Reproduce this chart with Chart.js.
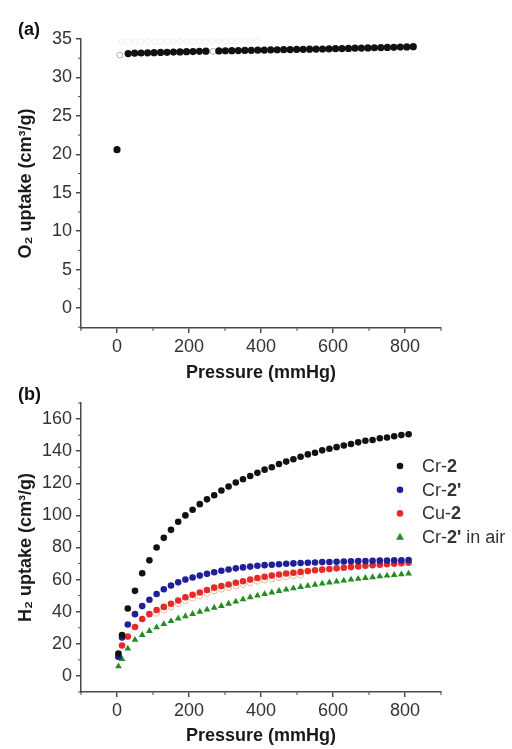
<!DOCTYPE html>
<html>
<head>
<meta charset="utf-8">
<title>O2 and H2 uptake</title>
<script src="https://cdn.jsdelivr.net/npm/chart.js@4.4.1/dist/chart.umd.min.js"></script>
<style>
  body { margin: 0; background: #fff; width: 512px; height: 749px; position: relative; overflow: hidden; font-family: "Liberation Sans", Arial, sans-serif; }
  canvas { position: absolute; left: 0; }
  #chartA { top: 0; }
  #chartB { top: 386px; }
  .panel { position: absolute; left: 18px; font-weight: bold; font-size: 18px; color: #111; line-height: 20px; }
</style>
</head>
<body>
<canvas id="chartA" width="512" height="386"></canvas>
<canvas id="chartB" width="512" height="363"></canvas>
<div class="panel" style="top:19px">(a)</div>
<div class="panel" style="top:384px">(b)</div>
<script>
// ---- data ----
const xTicks = [0, 200, 400, 600, 800];
const o2Ticks = [0, 5, 10, 15, 20, 25, 30, 35];
const h2Ticks = [0, 20, 40, 60, 80, 100, 120, 140, 160];

// (a) O2 isotherm
const o2Pressure = [0, 31, 49, 67, 85, 103, 121, 139, 157, 175, 193, 211, 229, 247,
  283, 301, 319, 337, 355, 373, 391, 409, 427, 445, 463, 481, 499, 517, 535, 553,
  571, 589, 607, 625, 643, 661, 679, 697, 715, 733, 751, 769, 787, 805, 823];
const o2Uptake = [20.6, 33.1, 33.15, 33.18, 33.2, 33.22, 33.25, 33.27, 33.3, 33.32, 33.35, 33.37, 33.4, 33.42,
  33.45, 33.47, 33.48, 33.5, 33.52, 33.53, 33.55, 33.56, 33.58, 33.6, 33.61, 33.63, 33.64, 33.66, 33.67, 33.69,
  33.7, 33.72, 33.74, 33.76, 33.78, 33.8, 33.82, 33.84, 33.86, 33.88, 33.9, 33.92, 33.95, 33.97, 34.0];
const o2OpenPressure = [8, 267];
const o2OpenUptake = [32.9, 33.4];
const o2FaintPressure = [13, 31, 49, 67, 85, 103, 121, 139, 157, 175, 193, 211, 229, 247, 265, 283, 301, 319, 337, 355, 373, 391];
const o2FaintUptake = [34.6, 34.6, 34.62, 34.62, 34.63, 34.63, 34.64, 34.65, 34.65, 34.66, 34.66, 34.67, 34.68, 34.68, 34.69, 34.7, 34.7, 34.71, 34.72, 34.72, 34.73, 34.74];

// (b) H2 isotherms
const h2Labels = ['Cr-2', "Cr-2'", 'Cu-2', "Cr-2' in air"];
const h2Pressure = [4, 14, 30, 50, 70, 90, 110, 130, 150, 170, 190, 210, 230, 250, 270, 290, 310, 330, 350, 370,
  390, 410, 430, 450, 470, 490, 510, 530, 550, 570, 590, 610, 630, 650, 670, 690, 710, 730, 750, 770, 790, 810];
const cr2Uptake = [14, 25.5, 42, 53, 64, 72, 80, 86, 91, 96, 100, 103.5, 107, 110, 112.5, 115.5, 118, 120.5, 122.5, 124.5,
  126.5, 128.5, 130, 132, 133.5, 135, 136.5, 138, 139, 140.5, 141.5, 142.5, 143.5, 144.5, 145.5, 146.5, 147, 148, 148.5, 149.3, 150, 150.5];
const cr2pUptake = [12, 24, 32, 38.5, 43.5, 47.5, 51, 54, 56.3, 58.3, 60, 61.3, 62.5, 63.6, 64.6, 65.5, 66.3, 67, 67.6, 68.1,
  68.6, 69, 69.3, 69.6, 69.9, 70.1, 70.3, 70.5, 70.7, 70.9, 71, 71.1, 71.3, 71.4, 71.5, 71.6, 71.7, 71.8, 71.9, 72, 72.1, 72.2];
const cu2Uptake = [12, 19, 24.5, 30.5, 35.5, 38.5, 41, 43, 45, 47, 49, 50.5, 52, 53.5, 55, 56, 57, 58, 59, 60,
  61, 61.8, 62.5, 63.2, 63.8, 64.3, 64.8, 65.3, 65.8, 66.2, 66.6, 67, 67.4, 67.8, 68.2, 68.6, 69, 69.3, 69.6, 69.9, 70.2, 70.5];
const cr2AirUptake = [6, 10.5, 17, 22.5, 25.5, 28, 30.3, 32.3, 34.2, 35.8, 37.2, 38.6, 40, 41.3, 42.5, 43.6, 45, 46.3, 47.7, 49,
  50, 51, 52, 52.9, 53.8, 54.6, 55.4, 56.1, 56.8, 57.5, 58.2, 58.8, 59.4, 60, 60.5, 61, 61.5, 62, 62.5, 62.9, 63.3, 63.7];
const h2OpenPressure = [110, 130, 150, 170, 190, 210, 230, 250, 270, 290, 310, 330, 350, 370, 390, 410, 430, 450, 470, 490, 510];
const h2OpenUptake = [39, 41, 43, 45, 47, 48.5, 50, 51.5, 53, 54, 55, 56, 57, 58, 59, 59.8, 60.5, 61.2, 61.8, 62.3, 62.8];

// ---- styles ----
const axisColor = '#4a4a4a';
const tickColor = '#333';
const titleColor = '#1a1a1a';
const FONT = '"Liberation Sans", Arial, sans-serif';
Chart.defaults.font.family = FONT;
Chart.defaults.font.size = 18;

const pts = (xs, ys) => xs.map((x, i) => ({ x: x, y: ys[i] }));

function dots(label, data, color, style, r, hollow) {
  return {
    label: label,
    data: data,
    pointStyle: style,
    pointRadius: r,
    pointBackgroundColor: hollow ? 'rgba(0,0,0,0)' : color,
    pointBorderColor: color,
    pointBorderWidth: hollow ? 1 : 0,
    backgroundColor: color,
    showLine: false,
    clip: false
  };
}

// small unlabeled ticks halfway between the labeled ones
const minorTicks = {
  id: 'minorTicks',
  afterDraw(chart) {
    const { ctx } = chart;
    ctx.save();
    ctx.strokeStyle = axisColor;
    ctx.lineWidth = 1;
    ['x', 'y'].forEach(id => {
      const s = chart.scales[id];
      const vals = s.ticks.map(t => t.value);
      const half = (vals[1] - vals[0]) / 2;
      for (let v = vals[0] - half; v <= s.max + 1e-9; v += half * 2) {
        if (v < s.min - 1e-9) continue;
        const p = s.getPixelForValue(v);
        ctx.beginPath();
        if (id === 'x') { ctx.moveTo(p, s.top); ctx.lineTo(p, s.top + 3); }
        else { ctx.moveTo(s.right, p); ctx.lineTo(s.right - 3, p); }
        ctx.stroke();
      }
    });
    ctx.restore();
  }
};

// legend inside the plot, compound number set in bold
const h2Legend = {
  id: 'h2Legend',
  afterDatasetsDraw(chart) {
    const { ctx, chartArea } = chart;
    const markX = chartArea.right - 41;
    const textX = markX + 22;
    ctx.save();
    h2Labels.forEach((label, i) => {
      const ds = chart.data.datasets[i];
      const y = chartArea.top + 63 + i * 23.7;
      ctx.fillStyle = ds.backgroundColor;
      ctx.beginPath();
      if (ds.pointStyle === 'triangle') {
        const r = ds.pointRadius;
        ctx.moveTo(markX, y - r * 1.1);
        ctx.lineTo(markX + r, y + r * 0.7);
        ctx.lineTo(markX - r, y + r * 0.7);
        ctx.closePath();
      } else {
        ctx.arc(markX, y, ds.pointRadius, 0, Math.PI * 2);
      }
      ctx.fill();
      const m = label.match(/^(.*-)(2'?)(.*)$/);
      let x = textX;
      ctx.textBaseline = 'middle';
      ctx.fillStyle = tickColor;
      [[m[1], 'normal'], [m[2], 'bold'], [m[3], 'normal']].forEach(([t, w]) => {
        ctx.font = w + ' 18px ' + FONT;
        ctx.fillText(t, x, y + 1);
        x += ctx.measureText(t).width;
      });
    });
    ctx.restore();
  }
};

function scalesFor(yTicks, yMin, yMax, yTitle, xHeight) {
  const grid = { display: true, drawOnChartArea: false, drawTicks: true, tickLength: 5, color: axisColor, lineWidth: 1.5 };
  const border = { display: true, color: axisColor, width: 1.5 };
  return {
    x: {
      type: 'linear', min: -100, max: 900,
      afterBuildTicks: s => { s.ticks = xTicks.map(v => ({ value: v })); },
      afterFit: s => { s.height = xHeight; },
      grid: grid, border: border,
      ticks: { color: tickColor, padding: 3, maxRotation: 0, autoSkip: false },
      title: { display: true, text: 'Pressure (mmHg)', color: titleColor, font: { size: 18, weight: 'bold' }, padding: { top: 0, bottom: 2 } }
    },
    y: {
      type: 'linear', min: yMin, max: yMax,
      afterBuildTicks: s => { s.ticks = yTicks.map(v => ({ value: v })); },
      afterFit: s => { s.width = 81; },
      grid: grid, border: border,
      ticks: { color: tickColor, padding: 4, autoSkip: false },
      title: { display: true, text: yTitle, color: titleColor, font: { size: 18, weight: 'bold' }, padding: { top: 15, bottom: 0 } }
    }
  };
}

const common = {
  responsive: false,
  animation: false,
  events: [],
  plugins: { legend: { display: false }, tooltip: { enabled: false } }
};

new Chart(document.getElementById('chartA'), {
  type: 'scatter',
  data: {
    datasets: [
      dots('O2', pts(o2Pressure, o2Uptake), '#111', 'circle', 3.6, false),
      dots('O2 open', pts(o2OpenPressure, o2OpenUptake), '#b0b0b0', 'circle', 3, true),
      dots('O2 faint', pts(o2FaintPressure, o2FaintUptake), '#efefef', 'circle', 2.6, true)
    ]
  },
  options: Object.assign({}, common, {
    layout: { padding: { top: 39, right: 71, left: 0, bottom: 0 } },
    scales: scalesFor(o2Ticks, -2.6, 35, 'O₂ uptake (cm³/g)', 58)
  }),
  plugins: [minorTicks]
});

new Chart(document.getElementById('chartB'), {
  type: 'scatter',
  data: {
    datasets: [
      dots(h2Labels[0], pts(h2Pressure, cr2Uptake), '#111', 'circle', 3.3, false),
      dots(h2Labels[1], pts(h2Pressure, cr2pUptake), '#1f1f9a', 'circle', 3.3, false),
      dots(h2Labels[2], pts(h2Pressure, cu2Uptake), '#e52a2a', 'circle', 3.3, false),
      dots(h2Labels[3], pts(h2Pressure, cr2AirUptake), '#238c23', 'triangle', 3.9, false),
      dots('Cu-2 open', pts(h2OpenPressure, h2OpenUptake), '#e0bc98', 'circle', 3, true)
    ]
  },
  options: Object.assign({}, common, {
    layout: { padding: { top: 17, right: 71, left: 0, bottom: 0 } },
    scales: scalesFor(h2Ticks, -10, 170, 'H₂ uptake (cm³/g)', 57)
  }),
  plugins: [minorTicks, h2Legend]
});
</script>
</body>
</html>
